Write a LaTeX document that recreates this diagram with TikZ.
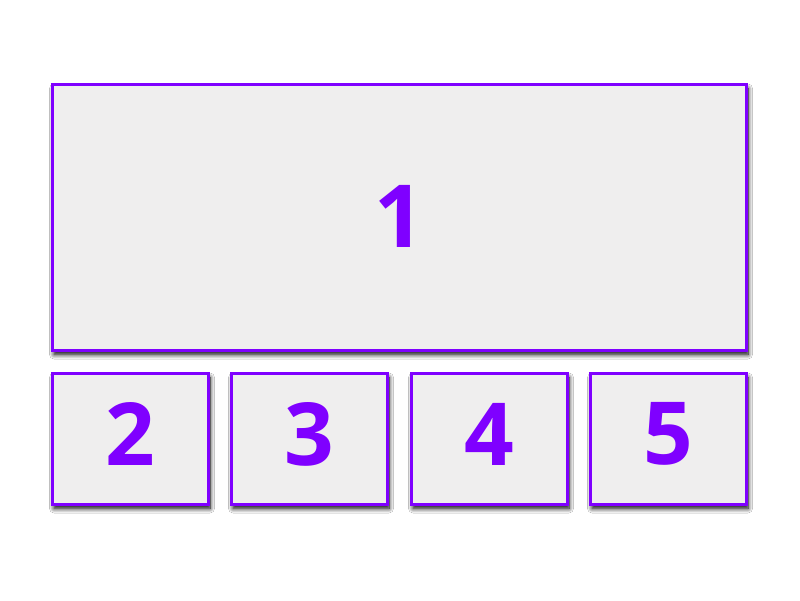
\documentclass[tikz,border=0pt]{standalone}
\usepackage{fontspec}
\setmainfont{Open Sans}
\usetikzlibrary{shadows.blur}
\definecolor{vio}{HTML}{7F00FF}
\definecolor{boxfill}{HTML}{EFEEEE}
\newcommand{\lifted}[1]{\raisebox{5pt}[\height][\depth]{#1}}
\begin{document}
\begin{tikzpicture}[x=1pt,y=-1pt,
  panel/.style={draw=vio, line width=3.2pt, fill=boxfill, inner sep=0pt, outer sep=0pt,
    text=vio, font=\fontsize{87}{87}\selectfont\bfseries,
    blur shadow={shadow xshift=1.5pt, shadow yshift=-4pt, shadow blur radius=4.5pt, shadow blur steps=10, shadow opacity=100}},
  small/.style={panel, minimum width=156pt, minimum height=131pt}]
\useasboundingbox (0,0) rectangle (800,601);
\fill[white] (0,0) rectangle (800,601);
\node[panel, minimum width=694pt, minimum height=266pt] (p1) at (399.5,217.5) {\raisebox{1pt}[\height][\depth]{1}};
\node[small] (p2) at (130.5,439) {\lifted{2}};
\node[small] (p3) at (309.5,439) {\lifted{3}};
\node[small] (p4) at (489.5,439) {\lifted{4}};
\node[small] (p5) at (668.5,439) {\lifted{5}};
\end{tikzpicture}
\end{document}
